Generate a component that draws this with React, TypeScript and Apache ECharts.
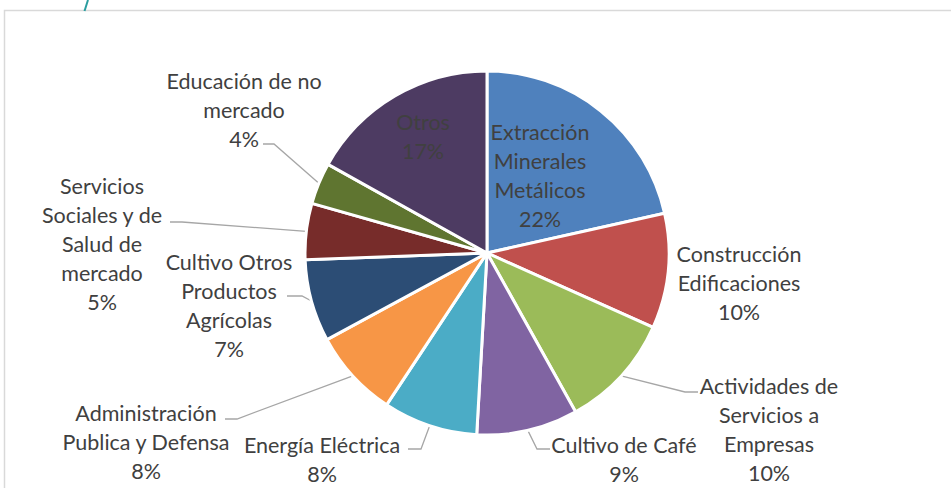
import React, { useEffect, useRef } from "react";
import * as echarts from "echarts";

const categories = [
  "Extracción Minerales Metálicos",
  "Construcción Edificaciones",
  "Actividades de Servicios a Empresas",
  "Cultivo de Café",
  "Energía Eléctrica",
  "Administración Publica y Defensa",
  "Cultivo Otros Productos Agrícolas",
  "Servicios Sociales y de Salud de mercado",
  "Educación de no mercado",
  "Otros",
];
const values = [21.5, 10.2, 10.2, 9.0, 8.4, 7.8, 7.3, 5.0, 3.7, 16.9];
const labelTexts = [
  "Extracción\nMinerales\nMetálicos",
  "Construcción\nEdificaciones",
  "Actividades de\nServicios a\nEmpresas",
  "Cultivo de Café",
  "Energía Eléctrica",
  "Administración\nPublica y Defensa",
  "Cultivo Otros\nProductos\nAgrícolas",
  "Servicios\nSociales y de\nSalud de\nmercado",
  "Educación de no\nmercado",
  "Otros",
];
const colors = [
  "#4F81BD", "#C0504D", "#9BBB59", "#8064A2", "#4BACC6",
  "#F79646", "#2C4D75", "#772C2A", "#5F7530", "#4D3B62",
];
const insideLabel = [true, false, false, false, false, false, false, false, false, true];
const showLine = [false, false, true, true, true, true, true, true, true, false];

// label layout (text block centre, leader elbow and end)
const labelLayoutPos: { x: number; y: number; line?: number[][] }[] = [
  { x: 540, y: 175 },
  { x: 739, y: 282.5 },
  { x: 769, y: 429.5, line: [[685, 392], [698, 392]] },
  { x: 624, y: 459.5, line: [[537, 449], [550, 449]] },
  { x: 322, y: 459.5, line: [[421, 449], [408, 449]] },
  { x: 146, y: 442, line: [[237, 419], [225, 419]] },
  { x: 229, y: 305.5, line: [[302, 296], [287, 296]] },
  { x: 102, y: 244, line: [[182, 222], [170, 222]] },
  { x: 244, y: 110, line: [[274, 144], [263, 144]] },
  { x: 423, y: 136.5 },
];

export default function App() {
  const ref = useRef<HTMLDivElement>(null);
  useEffect(() => {
    if (!ref.current) return;
    const chart = echarts.init(ref.current, null, { renderer: "svg" });
    const font = "Lato, 'Open Sans', sans-serif";
    chart.setOption({
      animation: false,
      backgroundColor: "#ffffff",
      graphic: [
        {
          type: "rect",
          shape: { x: 4.5, y: 10.5, width: 1000, height: 1000 },
          style: { fill: "none", stroke: "#d9d9d9", lineWidth: 1.5 },
          silent: true,
        },
        {
          type: "line",
          shape: { x1: 84.5, y1: 11, x2: 88, y2: 0 },
          style: { stroke: "#2a9d9f", lineWidth: 2 },
          silent: true,
        },
      ],
      series: [
        {
          type: "pie",
          center: [487, 253],
          radius: 182,
          startAngle: 90,
          clockwise: true,
          avoidLabelOverlap: false,
          itemStyle: { borderColor: "#ffffff", borderWidth: 3 },
          label: {
            show: true,
            fontFamily: font,
            fontSize: 21.5,
            lineHeight: 29,
            color: "#404040",
            align: "center",
            formatter: (p: any) => `${labelTexts[p.dataIndex]}\n${Math.round(p.percent)}%`,
          },
          labelLine: {
            show: true,
            length: 10,
            length2: 10,
            lineStyle: { color: "#a6a6a6", width: 1.3 },
          },
          labelLayout: (p: any) => {
            const L = labelLayoutPos[p.dataIndex];
            const res: any = { x: L.x, y: L.y, align: "center", verticalAlign: "middle" };
            if (L.line && p.labelLinePoints && p.labelLinePoints[0]) {
              res.labelLinePoints = [p.labelLinePoints[0], L.line[0], L.line[1]];
            }
            return res;
          },
          data: values.map((v, i) => ({
            name: categories[i],
            value: v,
            itemStyle: { color: colors[i] },
            label: { position: insideLabel[i] ? "inside" : "outside" },
            labelLine: { show: showLine[i] },
          })),
        },
      ],
    });
    return () => chart.dispose();
  }, []);
  return (
    <div
      ref={ref}
      style={{ position: "fixed", left: 0, top: 0, width: 951, height: 488 }}
    />
  );
}
